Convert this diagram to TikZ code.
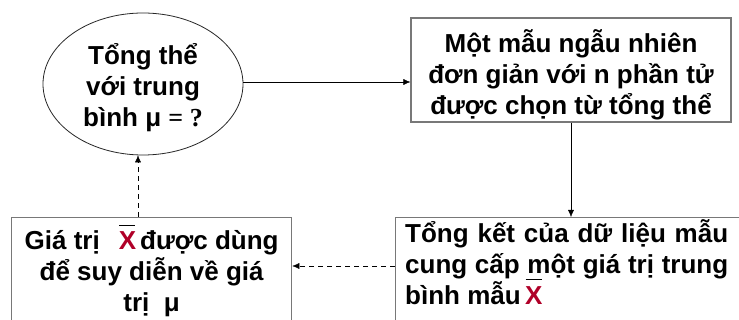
\documentclass[tikz,border=0pt]{standalone}
\usepackage{fontspec}
\setmainfont{Liberation Sans}
\newfontfamily\timespart{Liberation Serif}
\usepackage{xcolor}
\usetikzlibrary{shapes,arrows.meta,calc,positioning}
\definecolor{xred}{RGB}{176,0,40}
\definecolor{boxgray}{RGB}{120,120,120}
\newcommand{\xmean}{\leavevmode\rlap{\hspace{0.5pt}\rule[24pt]{16pt}{1.2pt}}\textcolor{xred}{X}}
\tikzset{
    -{Latex[length=7pt,width=6pt]},x=1pt,y=-1pt,line width=1pt,
    state/.style ={ellipse, draw=black!85, line width=0.8pt, minimum width=200pt, minimum height=142pt, inner sep=0pt},
    box/.style = {rectangle, draw=boxgray, line width=1.3pt, inner sep=0pt},
    txt/.style = {font=\fontsize{26}{31}\selectfont\bfseries, inner sep=0pt},
    inferred/.style={dashed, dash pattern=on 5pt off 4pt}
}

\begin{document}
\begin{tikzpicture}
    \useasboundingbox (0,0) rectangle (739,320);
    \clip (0,0) rectangle (739,320);
        \node[state] (1) at (143,84) {};
        \node[txt,align=center] (1t) at ([yshift=-4pt]1.center) {Tổng thể\\với trung\\bình μ {\timespart = ?}};
        \node[box,minimum width=320pt,minimum height=104pt] (2) at (571,70) {};
        \node[txt,align=center] (2t) at ([yshift=-5pt]2.center) {Một mẫu ngẫu nhiên\\đơn giản với n phần tử\\được chọn từ tổng thể};
        \node[box,anchor=north west,minimum width=360pt,minimum height=130pt] (3) at (395,217) {};
        \node[txt,anchor=north west,text width=323pt,align=justify] (3t) at ([shift={(10,2)}]3.north west) {Tổng kết của dữ liệu mẫu\linebreak cung cấp một giá trị trung\linebreak bình mẫu\,\xmean};
        \node[box,anchor=north west,minimum width=280pt,minimum height=120pt] (4) at (11,217) {};
        \node[txt,align=center] (4t) at ([yshift=-54pt]4.north) {Giá trị\hspace*{19pt}\xmean\hspace*{4pt}được dùng\\để suy diễn về giá\\trị \ μ};
        \coordinate (a) at (138,0);
        \coordinate (b) at (0,266);
        \coordinate (c) at (0,82);
        \path (1.east |- c) edge (2.west |- c);
        \path (2.south) edge (2.south |- 3.north);
        \path[inferred] (3.west |- b) edge (4.east |- b);
        \path[inferred] (4.north -| a) edge (1.south -| a);

    \end{tikzpicture}
\end{document}
